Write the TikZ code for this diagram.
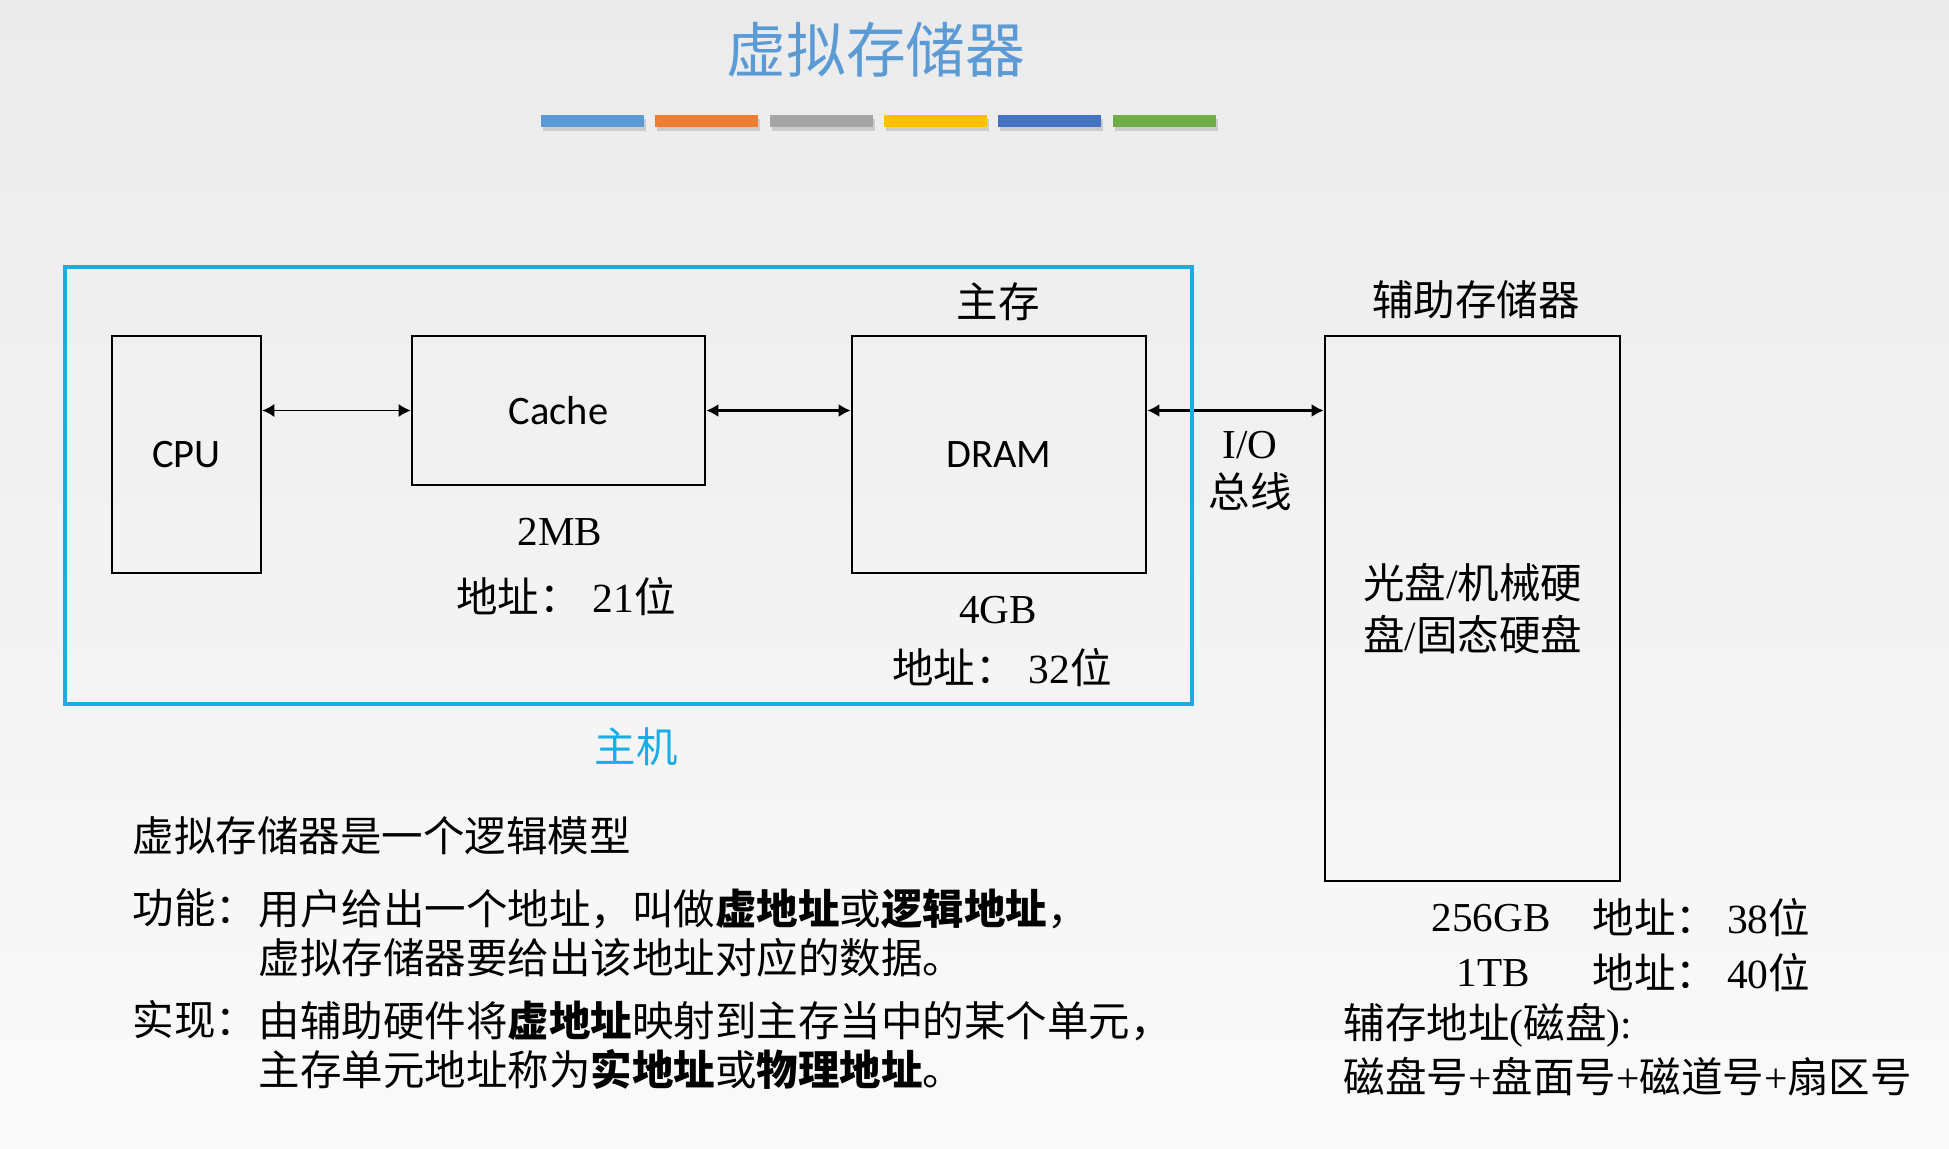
\documentclass[tikz,border=0pt]{standalone}
\usepackage{fontspec}
\setmainfont{Liberation Serif}
\newfontfamily\cjk{Noto Sans CJK SC}
\newfontfamily\cali{Carlito}
\usetikzlibrary{arrows.meta,positioning,calc}
\definecolor{titleblue}{HTML}{5B9BD5}
\definecolor{hostcyan}{HTML}{1AADE4}
\definecolor{barblue}{HTML}{5B9BD5}
\definecolor{barorange}{HTML}{ED7D31}
\definecolor{bargray}{HTML}{A5A5A5}
\definecolor{baryellow}{HTML}{FFC000}
\definecolor{bardeep}{HTML}{4472C4}
\definecolor{bargreen}{HTML}{70AD47}
\definecolor{bgtop}{HTML}{EBEBEB}
\definecolor{bgbot}{HTML}{FAFAFA}

\begin{document}
\begin{tikzpicture}[x=0.01cm,y=-0.01cm,>={Latex[length=1.2mm,width=1.3mm]},
  box/.style={draw=black,line width=0.7pt,inner sep=0pt},
  zh/.style={font=\cjk\fontsize{11.8pt}{13.9pt}\selectfont,inner sep=0pt},
  en/.style={font=\fontsize{11.7pt}{14pt}\selectfont,inner sep=0pt},
  sans/.style={font=\cali\fontsize{11.5pt}{14pt}\selectfont},
  link/.style={<->,line width=0.9pt}]

% ===== page background =====
\shade[top color=bgtop,bottom color=bgbot] (0,0) rectangle (1949,1149);
\useasboundingbox (0,0) rectangle (1949,1149);

% ===== title + colour strip =====
\node[zh,font=\cjk\fontsize{17pt}{20pt}\selectfont,text=titleblue] (title) at (876,50) {虚拟存储器};
\foreach \c [count=\i from 0] in {barblue,barorange,bargray,baryellow,bardeep,bargreen}{
  \pgfmathsetmacro{\xx}{541+\i*114.3}
  \fill[black!20] (\xx+2,119) rectangle ++(103,12);
  \fill[\c] (\xx,115) rectangle ++(103,12);}

% ===== host: CPU, Cache, DRAM =====
\node[box,sans,minimum width=1.49cm,minimum height=2.37cm] (cpu) at (186.5,454.5) {CPU};
\node[box,sans,minimum width=2.93cm,minimum height=1.49cm] (cache) at (558.5,410.5) {Cache};
\node[box,sans,minimum width=2.94cm,minimum height=2.37cm] (dram) at (999,454.5) {DRAM};
\node[zh] (dramtitle) at (998,302) {主存};
\node[en] (cachesize) at (560,532) {2MB};
\node[zh] (cacheaddr) at (566,597) {地址：\kern0.12cm{\rmfamily 21}位};
\node[en] (dramsize) at (998,610) {4GB};
\node[zh] (dramaddr) at (1002,668) {地址：\kern0.12cm{\rmfamily 32}位};

% ===== secondary storage =====
\node[box,zh,align=center,font=\cjk\fontsize{11.8pt}{14.8pt}\selectfont,
      minimum width=2.95cm,minimum height=5.45cm] (aux) at (1472.5,608.5)
      {光盘{\rmfamily /}机械硬\\盘{\rmfamily /}固态硬盘};
\node[zh] (auxtitle) at (1476,300) {辅助存储器};
\node[en] (io) at (1250,445) {I/O};
\node[zh] (bus) at (1250,492) {总线};

% ===== arrows =====
\draw[link,line width=0.45pt] (cpu.east |- cache.west) -- (cache.west);
\draw[link] (cache.east) -- (cache.east -| dram.west);
\draw[link,line width=0.75pt] (dram.east |- cache.east) -- (aux.west |- cache.east);

% ===== host frame =====
\node[draw=hostcyan,line width=1.15pt,inner sep=0pt,minimum width=11.27cm,minimum height=4.37cm] (host) at (628.5,485.5) {};
\node[zh,text=hostcyan] (hostlab) at (636,747) {主机};

% ===== notes, left =====
\node[zh,anchor=west] (intro) at (132,836) {虚拟存储器是一个逻辑模型};
\node[zh,anchor=west] (fnlab) at (132,908) {功能：};
\node[zh,align=left,anchor=north west] (fntxt) at (fnlab.north east)
  {用户给出一个地址，叫做\textbf{虚地址}或\textbf{逻辑地址}，\\虚拟存储器要给出该地址对应的数据。};
\node[zh,anchor=west] (imlab) at (132,1020) {实现：};
\node[zh,align=left,anchor=north west] (imtxt) at (imlab.north east)
  {由辅助硬件将\textbf{虚地址}映射到主存当中的某个单元，\\主存单元地址称为\textbf{实地址}或\textbf{物理地址}。};

% ===== notes, right =====
\node[en] (cap1) at (1491,918) {256GB};
\node[zh,anchor=west] (addr1) at (1592,918) {地址：\kern0.1cm{\rmfamily 38}位};
\node[en] (cap2) at (1493,973) {1TB};
\node[zh,anchor=west] (addr2) at (1592,973) {地址：\kern0.1cm{\rmfamily 40}位};
\node[zh,anchor=west] (auxaddr) at (1343,1025) {辅存地址{\rmfamily (}磁盘{\rmfamily ):}};
\node[zh,anchor=west] (auxfmt) at (1343,1077)
  {磁盘号{\rmfamily +}盘面号{\rmfamily +}磁道号{\rmfamily +}扇区号};

\end{tikzpicture}
\end{document}
